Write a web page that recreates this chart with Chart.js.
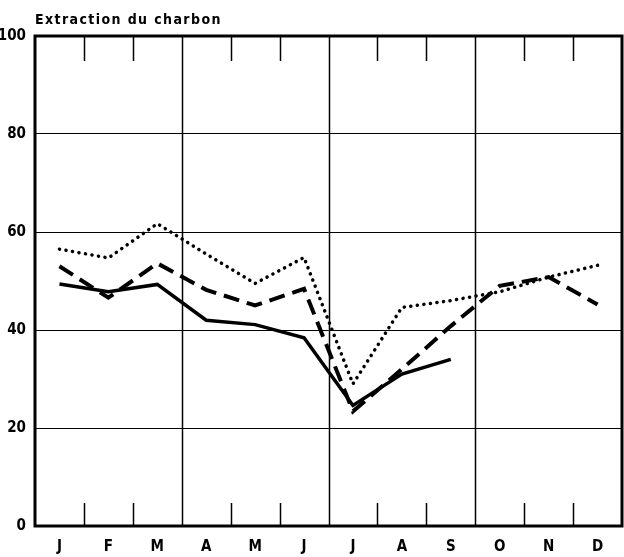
<!DOCTYPE html>
<html>
<head>
<meta charset="utf-8">
<script src="https://cdn.jsdelivr.net/npm/chart.js@4.4.0/dist/chart.umd.min.js"></script>
<style>
  html, body { margin: 0; padding: 0; background: #fff; }
  #wrap { width: 624px; height: 557px; }
</style>
</head>
<body>
<div id="wrap"><canvas id="chart"></canvas></div>
<script>
// Data
const months = ['J', 'F', 'M', 'A', 'M', 'J', 'J', 'A', 'S', 'O', 'N', 'D'];
const solidSeries  = [49.4, 47.8, 49.3, 42.0, 41.1, 38.4, 24.6, 31.0, 34.0, null, null, null];
const dashedSeries = [53.0, 46.6, 53.6, 48.2, 45.0, 48.4, 23.4, 32.0, 40.8, 49.0, 50.8, 45.2];
const dottedSeries = [56.5, 54.7, 61.7, 55.5, 49.5, 54.8, 29.0, 44.6, 46.0, 47.8, 50.8, 53.2];
const yTicks = [0, 20, 40, 60, 80, 100];
const titleText = 'Extraction du charbon';

const FONT = "'Liberation Sans Narrow', 'DejaVu Sans Condensed', 'Arial Narrow', sans-serif";

// frame, quarter lines and month ticks drawn from the x scale
const framePlugin = {
  id: 'frame',
  afterDatasetsDraw(chart) {
    const { ctx, chartArea: a, scales: { x } } = chart;
    ctx.save();
    ctx.strokeStyle = '#000';
    const half = (x.getPixelForValue(1) - x.getPixelForValue(0)) / 2;
    for (let i = 1; i < months.length; i++) {
      const bx = Math.round(x.getPixelForValue(i) - half) + 0.5;
      ctx.lineWidth = 1.5;
      ctx.beginPath();
      if (i % 3 === 0) {
        ctx.moveTo(bx, a.top);
        ctx.lineTo(bx, a.bottom);
      } else {
        ctx.moveTo(bx, a.top);
        ctx.lineTo(bx, a.top + 25);
        ctx.moveTo(bx, a.bottom);
        ctx.lineTo(bx, a.bottom - 23);
      }
      ctx.stroke();
    }
    ctx.lineWidth = 3;
    ctx.strokeRect(a.left, a.top, a.right - a.left, a.bottom - a.top);
    ctx.restore();
  },
  afterDraw(chart) {
    const { ctx, chartArea: a } = chart;
    ctx.save();
    ctx.fillStyle = '#000';
    ctx.font = 'bold 14px ' + FONT;
    ctx.textBaseline = 'middle';
    ctx.letterSpacing = '1.4px';
    ctx.fillText(titleText, a.left, 20);
    ctx.restore();
  }
};

new Chart(document.getElementById('chart'), {
  type: 'line',
  data: {
    labels: months,
    datasets: [
      {
        label: 'solid',
        data: solidSeries,
        borderColor: '#000',
        borderWidth: 3.5,
        pointRadius: 0,
        spanGaps: false
      },
      {
        label: 'dashed',
        data: dashedSeries,
        borderColor: '#000',
        borderWidth: 4,
        borderDash: [16, 8],
        pointRadius: 0
      },
      {
        label: 'dotted',
        data: dottedSeries,
        borderColor: '#000',
        borderWidth: 3.5,
        borderDash: [0.1, 6.5],
        borderCapStyle: 'round',
        pointRadius: 0
      }
    ]
  },
  options: {
    responsive: true,
    maintainAspectRatio: false,
    animation: false,
    layout: { padding: { top: 36, right: 2, left: 0, bottom: 0 } },
    plugins: {
      legend: { display: false },
      tooltip: { enabled: false }
    },
    scales: {
      x: {
        offset: true,
        grid: { display: false, drawTicks: false },
        border: { display: false },
        ticks: {
          color: '#000',
          padding: 12,
          maxRotation: 0,
          autoSkip: false,
          font: { family: FONT, size: 15, weight: 'bold' }
        },
        afterFit(scale) { scale.height = 31; }
      },
      y: {
        min: 0,
        max: 100,
        afterBuildTicks(scale) { scale.ticks = yTicks.map(v => ({ value: v })); },
        grid: { color: '#000', lineWidth: 1, drawTicks: false },
        border: { display: false },
        ticks: {
          color: '#000',
          padding: 9,
          font: { family: FONT, size: 15, weight: 'bold' }
        },
        afterFit(scale) { scale.width = 35; }
      }
    }
  },
  plugins: [framePlugin]
});
</script>
</body>
</html>
